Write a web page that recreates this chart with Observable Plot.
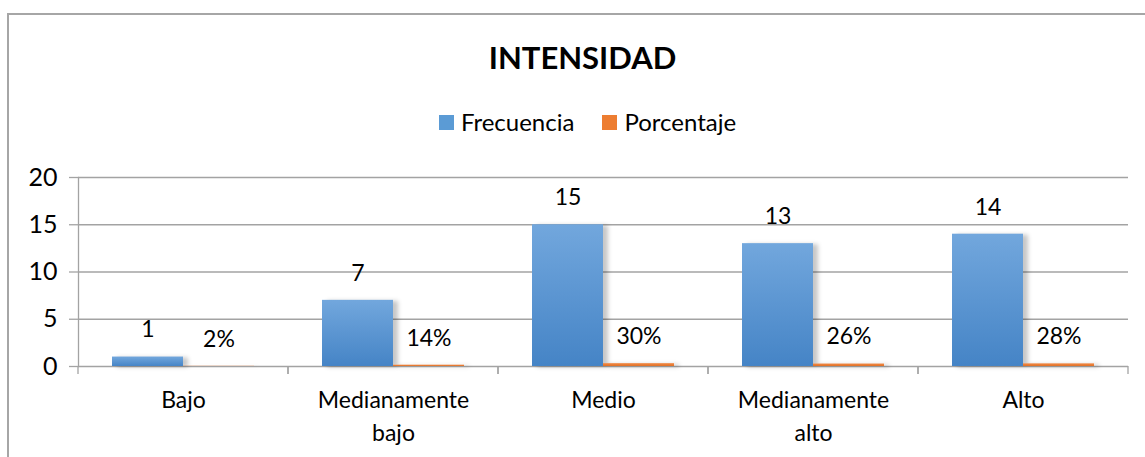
<!DOCTYPE html>
<html>
<head>
<meta charset="utf-8">
<script src="https://cdn.jsdelivr.net/npm/d3@7"></script>
<script src="https://cdn.jsdelivr.net/npm/@observablehq/plot@0.6"></script>
<style>
  html, body { margin: 0; padding: 0; background: #fff; }
  body { width: 1145px; height: 457px; position: relative; overflow: hidden; font-family: Lato, "Open Sans", sans-serif; color: #000; }
  #border { position: absolute; left: 7px; top: 13px; width: 1200px; height: 500px; border-left: 2px solid #a6a6a6; border-top: 2px solid #a6a6a6; box-sizing: border-box; }
  #title { position: absolute; left: 0; width: 1165px; top: 39px; text-align: center; font-size: 31px; font-weight: bold; line-height: 36px; }
  #legend { position: absolute; left: 0; width: 1175px; top: 108px; display: flex; justify-content: center; font-size: 24px; line-height: 28px; }
  #legend .item { display: flex; align-items: center; margin: 0 14px; }
  #legend .sw { width: 15px; height: 15px; margin-right: 7px; }
  #chart { position: absolute; left: 0; top: 150px; }
  g[aria-label="bar"] rect { filter: drop-shadow(5px 1px 2px rgba(0,0,0,0.22)); }
</style>
</head>
<body>
<svg width="0" height="0" style="position:absolute">
  <defs>
    <linearGradient id="gBlue" x1="0" y1="0" x2="0" y2="1">
      <stop offset="0" stop-color="#72a7dd"/>
      <stop offset="1" stop-color="#4584c6"/>
    </linearGradient>
    <linearGradient id="gOrange" x1="0" y1="0" x2="0" y2="1">
      <stop offset="0" stop-color="#f28a45"/>
      <stop offset="1" stop-color="#e07026"/>
    </linearGradient>
  </defs>
</svg>
<div id="border"></div>
<div id="title">INTENSIDAD</div>
<div id="legend"></div>
<div id="chart"></div>
<script>
// ---- data ----
const categories = ["Bajo", "Medianamente bajo", "Medio", "Medianamente alto", "Alto"];
const categoryLabels = ["Bajo", "Medianamente\nbajo", "Medio", "Medianamente\nalto", "Alto"];
const series = ["Frecuencia", "Porcentaje"];
const frecuencia = [1, 7, 15, 13, 14];
const porcentaje = [0.02, 0.14, 0.30, 0.26, 0.28];
const porcentajeLabels = ["2%", "14%", "30%", "26%", "28%"];
const yTicks = [0, 5, 10, 15, 20];
const seriesColors = ["#5b9bd5", "#ed7d31"];
const seriesFills = ["url(#gBlue)", "url(#gOrange)"];

// ---- table ----
const rows = [];
categories.forEach((c, i) => {
  rows.push({cat: c, series: series[0], value: frecuencia[i], label: String(frecuencia[i])});
  rows.push({cat: c, series: series[1], value: porcentaje[i], label: porcentajeLabels[i]});
});

// ---- legend ----
const legend = document.getElementById("legend");
series.forEach((s, i) => {
  const it = document.createElement("div");
  it.className = "item";
  const sw = document.createElement("div");
  sw.className = "sw";
  sw.style.background = seriesColors[i];
  const tx = document.createElement("span");
  tx.textContent = s;
  it.appendChild(sw); it.appendChild(tx);
  legend.appendChild(it);
});

const gridColor = "#a3a3a3";

const separators = (index, scales, values, dims) => {
  const g = d3.create("svg:g");
  const y0 = scales.y(0);
  [dims.marginLeft, dims.width - dims.marginRight].forEach(x => {
    g.append("line").attr("x1", x).attr("x2", x).attr("y1", y0).attr("y2", y0 + 8)
      .attr("stroke", gridColor).attr("stroke-width", 1.3);
  });
  return g.node();
};

const plot = Plot.plot({
  width: 1145,
  height: 307,
  marginLeft: 77,
  marginRight: 16,
  marginTop: 27,
  marginBottom: 91,
  style: {fontFamily: "Lato, 'Open Sans', sans-serif", color: "#000", background: "transparent"},
  fx: {domain: categories, padding: 0, label: null},
  x: {domain: series, paddingInner: 0, paddingOuter: 0.46, axis: null},
  y: {domain: [0, 20], label: null},
  color: {domain: series, range: seriesFills},
  marks: [
    Plot.ruleY(yTicks, {stroke: gridColor, strokeWidth: 1.3}),
    Plot.frame({anchor: "left", facetAnchor: "left", stroke: gridColor, strokeWidth: 1.3}),
    separators,
    Plot.axisY({ticks: yTicks, tickSize: 9, tickPadding: 12, fontSize: 25, stroke: gridColor, strokeWidth: 1.3, fill: "#000", label: null}),
    Plot.axisFx({anchor: "bottom", tickSize: 0, tickPadding: 19, fontSize: 23, lineHeight: 1.4, fill: "#000", label: null,
      tickFormat: d => categoryLabels[categories.indexOf(d)]}),
    Plot.barY(rows, {fx: "cat", x: "series", y: "value", fill: "series"}),
    Plot.text(rows, {fx: "cat", x: "series", y: "value", text: "label", dy: -27, fontSize: 23, fill: "#000"})
  ]
});
document.getElementById("chart").appendChild(plot);
</script>
</body>
</html>
